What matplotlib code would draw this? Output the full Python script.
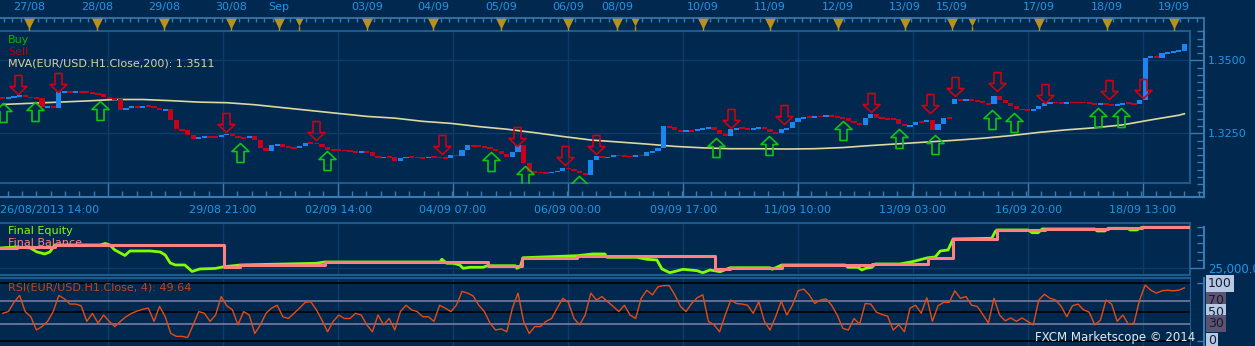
import numpy as np
import matplotlib.pyplot as plt
from matplotlib.path import Path

W, H = 1255, 346
BG = '#01294f'
GRID = '#0e3c69'
BORDER = '#1f5a8c'
AXIS = '#3a7ab0'
LABEL = '#1e96e6'

plt.rcParams['font.family'] = 'DejaVu Sans'
plt.rcParams['font.size'] = 8

# hourly chart resampled to one candle per 2 hours (bar index 0..211)
closes = [
    1.3370, 1.3373, 1.3377, 1.3380, 1.3373, 1.3373, 1.3370, 1.3339, 1.3343, 1.3336,
    1.3391, 1.3394, 1.3391, 1.3394, 1.3391, 1.3391, 1.3387, 1.3384, 1.3373, 1.3370,
    1.3367, 1.3329, 1.3336, 1.3343, 1.3339, 1.3343, 1.3343, 1.3336, 1.3329, 1.3332,
    1.3295, 1.3264, 1.3261, 1.3244, 1.3230, 1.3237, 1.3240, 1.3237, 1.3237, 1.3244,
    1.3247, 1.3240, 1.3237, 1.3233, 1.3240, 1.3226, 1.3199, 1.3189, 1.3209, 1.3213,
    1.3202, 1.3202, 1.3199, 1.3206, 1.3216, 1.3216, 1.3213, 1.3202, 1.3192, 1.3192,
    1.3192, 1.3189, 1.3189, 1.3185, 1.3189, 1.3185, 1.3172, 1.3165, 1.3168, 1.3168,
    1.3155, 1.3165, 1.3168, 1.3168, 1.3165, 1.3165, 1.3168, 1.3168, 1.3165, 1.3165,
    1.3175, 1.3172, 1.3192, 1.3209, 1.3206, 1.3206, 1.3202, 1.3196, 1.3189, 1.3178,
    1.3168, 1.3185, 1.3209, 1.3148, 1.3117, 1.3117, 1.3114, 1.3114, 1.3117, 1.3120,
    1.3131, 1.3127, 1.3120, 1.3114, 1.3107, 1.3158, 1.3172, 1.3165, 1.3168, 1.3175,
    1.3172, 1.3172, 1.3168, 1.3175, 1.3172, 1.3185, 1.3189, 1.3199, 1.3274, 1.3271,
    1.3261, 1.3257, 1.3261, 1.3257, 1.3264, 1.3267, 1.3271, 1.3261, 1.3247, 1.3240,
    1.3264, 1.3267, 1.3267, 1.3264, 1.3267, 1.3271, 1.3264, 1.3254, 1.3250, 1.3264,
    1.3267, 1.3288, 1.3302, 1.3305, 1.3305, 1.3308, 1.3308, 1.3312, 1.3308, 1.3305,
    1.3302, 1.3291, 1.3285, 1.3278, 1.3302, 1.3315, 1.3302, 1.3302, 1.3298, 1.3298,
    1.3281, 1.3274, 1.3278, 1.3288, 1.3288, 1.3295, 1.3261, 1.3281, 1.3302, 1.3302,
    1.3367, 1.3363, 1.3367, 1.3363, 1.3360, 1.3353, 1.3349, 1.3377, 1.3363, 1.3353,
    1.3343, 1.3332, 1.3332, 1.3329, 1.3332, 1.3343, 1.3353, 1.3356, 1.3356, 1.3353,
    1.3356, 1.3356, 1.3356, 1.3356, 1.3353, 1.3349, 1.3353, 1.3349, 1.3346, 1.3349,
    1.3353, 1.3353, 1.3349, 1.3363, 1.3510, 1.3517, 1.3510, 1.3524, 1.3527, 1.3531,
    1.3534, 1.3558]
gap_opens = {170: 1.3349}   # weekend gap, no candle bridging it

mva_x = [0, 5, 10, 15, 20, 25, 30, 35, 40, 45, 50, 55, 60, 65, 70, 75, 80, 85, 90, 95,
         100, 105, 110, 115, 120, 125, 130, 135, 140, 145, 150, 155, 160, 165, 170, 175,
         180, 185, 190, 195, 200, 205, 210, 211]
mva = [1.3349, 1.3353, 1.3357, 1.3361, 1.3366, 1.3366, 1.3362, 1.3357, 1.3355, 1.3348,
       1.3338, 1.3328, 1.3318, 1.3308, 1.3302, 1.3291, 1.3284, 1.3273, 1.3264, 1.3252,
       1.3239, 1.3227, 1.3220, 1.3213, 1.3205, 1.3200, 1.3197, 1.3197, 1.3196, 1.3197,
       1.3201, 1.3208, 1.3214, 1.3220, 1.3226, 1.3233, 1.3242, 1.3253, 1.3262, 1.3269,
       1.3279, 1.3296, 1.3312, 1.3317]

buy_x = [0.0, 5.8, 17.4, 42.4, 57.9, 87.2, 93.3, 102.9, 127.4, 136.8, 150.0, 160.0,
         166.5, 176.6, 180.6, 195.6, 199.7]
buy_p = [1.3353, 1.3356, 1.3360, 1.3216, 1.3189, 1.3185, 1.3137, 1.3103, 1.3233,
         1.3240, 1.3291, 1.3264, 1.3244, 1.3329, 1.3319, 1.3336, 1.3336]
sell_x = [2.7, 9.9, 39.9, 55.9, 78.4, 91.8, 100.4, 105.9, 130.0, 139.5, 155.0, 165.6,
          170.0, 177.5, 186.1, 197.5, 203.6]
sell_p = [1.3384, 1.3391, 1.3254, 1.3226, 1.3179, 1.3206, 1.3141, 1.3179, 1.3267,
          1.3281, 1.3322, 1.3319, 1.3377, 1.3394, 1.3353, 1.3367, 1.3370]

eq_x = [-0.5, 2.5, 4.9, 6.1, 7.5, 8.4, 9.3, 17.4, 18.3, 19.1, 20.0, 21.8, 22.7, 26.3,
        28.1, 29.0, 29.9, 30.8, 32.5, 33.8, 35.2, 37.9, 39.5, 42.4, 55.9, 57.5, 78.1,
        78.4, 79.3, 80.4, 81.6, 82.2, 83.4, 85.8, 86.5, 91.5, 91.8, 92.4, 92.9, 102.5,
        105.4, 107.5, 107.9, 113.2, 115.0, 116.8, 117.7, 119.1, 121.5, 124.0, 125.0,
        126.3, 128.1, 129.9, 137.0, 137.4, 139.1, 150.4, 150.9, 152.7, 153.4, 154.1,
        155.2, 155.8, 160.2, 162.4, 165.2, 166.5, 167.4, 168.8, 169.7, 176.6, 177.2,
        177.5, 183.1, 183.8, 184.9, 185.6, 195.0, 195.4, 196.8, 197.4, 200.9, 201.3,
        202.5, 203.4, 211.6]
equity = [25244, 25256, 25244, 25196, 25172, 25196, 25280, 25280, 25298, 25280, 25220,
          25154, 25208, 25208, 25196, 25160, 25064, 25040, 25040, 24962, 24992, 24998,
          25019, 25040, 25060, 25076, 25076, 25108, 25060, 25060, 25040, 25000, 25012,
          25012, 25031, 25031, 25000, 25019, 25127, 25151, 25172, 25172, 25132, 25132,
          25108, 25100, 24992, 24947, 24988, 24971, 24947, 24980, 24959, 25007, 25007,
          24988, 25040, 25040, 25012, 25012, 24980, 25000, 25012, 25052, 25052, 25079,
          25127, 25136, 25208, 25220, 25352, 25360, 25439, 25460, 25460, 25427, 25427,
          25472, 25472, 25448, 25448, 25480, 25480, 25460, 25460, 25492, 25492]
bal_x = [-0.5, 2.5, 9.3, 39.5, 42.4, 57.5, 86.6, 92.7, 102.5, 127.2, 129.9, 139.1,
         155.2, 165.2, 169.7, 177.5, 186.1, 197.4, 203.4, 211.6]
balance = [25244, 25259, 25280, 25019, 25040, 25076, 25031, 25127, 25151, 24988, 25007,
           25040, 25052, 25127, 25352, 25460, 25472, 25480, 25492, 25492]

rsi = [48, 51, 67, 79, 51, 42, 19, 25, 34, 51, 79, 73, 64, 64, 61, 34, 48, 31, 45, 34,
       25, 34, 42, 48, 52, 55, 57, 34, 60, 42, 13, 8, 8, 6, 28, 51, 48, 34, 45, 77,
       61, 54, 28, 51, 45, 13, 28, 48, 57, 62, 42, 39, 48, 57, 67, 68, 54, 36, 16, 34,
       45, 39, 39, 48, 45, 28, 16, 45, 28, 39, 19, 51, 62, 54, 51, 42, 42, 34, 62, 57,
       51, 62, 86, 83, 78, 62, 51, 31, 19, 21, 16, 57, 83, 34, 13, 25, 25, 34, 39, 57,
       74, 67, 39, 28, 45, 83, 71, 77, 68, 60, 51, 62, 45, 39, 74, 88, 80, 94, 96, 96,
       80, 60, 51, 65, 75, 80, 34, 28, 16, 45, 71, 65, 64, 62, 48, 68, 34, 19, 42, 69,
       45, 62, 87, 90, 80, 65, 71, 73, 62, 45, 22, 19, 39, 29, 65, 64, 50, 46, 43, 19,
       28, 16, 57, 62, 48, 75, 34, 61, 67, 67, 87, 74, 77, 62, 60, 46, 31, 74, 45, 35,
       40, 34, 40, 34, 28, 71, 81, 74, 71, 60, 42, 61, 64, 54, 50, 28, 36, 71, 64, 34,
       45, 29, 31, 71, 97, 88, 83, 87, 88, 87, 88, 92]

grid_bars = [18.8, 39.3, 59.9, 80.4, 100.9, 121.5, 142.0, 162.5, 183.1, 203.6]
time_labels = ['', '29/08 21:00', '02/09 14:00', '04/09 07:00', '06/09 00:00',
               '09/09 17:00', '11/09 10:00', '13/09 03:00', '16/09 20:00', '18/09 13:00']
day_bars = [4.7, 16.8, 28.8, 40.8, 49.3, 65.0, 76.8, 89.0, 100.9, 109.7, 125.0, 137.0,
            149.1, 161.1, 169.5, 185.0, 197.2, 209.1]
day_labels = ['27/08', '28/08', '29/08', '30/08', 'Sep', '03/09', '04/09', '05/09',
              '06/09', '08/09', '10/09', '11/09', '12/09', '13/09', '15/09', '17/09',
              '18/09', '19/09']
small_day_bars = [52.9, 112.9, 173.1]


def box(x0, y0, x1, y1):
    return [x0 / W, 1 - y1 / H, (x1 - x0) / W, (y1 - y0) / H]


def bare(ax):
    ax.set_facecolor(BG)
    for s in ax.spines.values():
        s.set_visible(False)
    ax.set_xticks([])
    ax.set_yticks([])


def scale_axes(rect, ylim):
    a = fig.add_axes(rect)
    a.patch.set_visible(False)
    for s in a.spines.values():
        s.set_visible(False)
    a.spines['right'].set_visible(True)
    a.spines['right'].set_color(AXIS)
    a.spines['right'].set_linewidth(1.5)
    a.set_ylim(*ylim)
    a.set_xticks([])
    a.yaxis.tick_right()
    return a


fig = plt.figure(figsize=(W / 100, H / 100), dpi=100, facecolor=BG)
XLIM = (-0.5, 212.0)
XLIM_AX = (-0.5, 214.5)

# ---------------- price panel ----------------
ax = fig.add_axes(box(0, 31, 1190, 183))
bare(ax)
ax.set_xlim(*XLIM)
ax.set_ylim(1.30793, 1.36012)
for s in ['top', 'right', 'bottom']:
    ax.spines[s].set_visible(True)
    ax.spines[s].set_color(BORDER)
    ax.spines[s].set_linewidth(1.5)
for g in grid_bars:
    ax.axvline(g, color=GRID, lw=1, zorder=0)
for p in [1.325, 1.35]:
    ax.axhline(p, color=GRID, lw=1, zorder=0)

c = np.array(closes)
o = np.concatenate([[c[0]], c[:-1]])
for k, v in gap_opens.items():
    o[k] = v
up = c > o
lo = np.minimum(o, c)
hi = np.maximum(o, c)
ht = np.maximum(hi - lo, 0.0006)
lo = np.where(hi - lo < 0.0006, (hi + lo) / 2 - 0.0003, lo)
idx = np.arange(len(c))
ax.bar(idx, ht, bottom=lo, width=0.9, color=np.where(up, '#1a86f2', '#c8001a'),
       linewidth=0, zorder=3)
ax.plot(mva_x, mva, color='#dcd8a0', lw=1.2, zorder=2)

buy_marker = Path([(0, 0), (8.5, -8), (3.5, -8), (3.5, -19), (-3.5, -19), (-3.5, -8),
                   (-8.5, -8), (0, 0)],
                  [Path.MOVETO] + [Path.LINETO] * 6 + [Path.CLOSEPOLY])
sell_marker = Path([(0, 0), (8.5, 8), (3.5, 8), (3.5, 19), (-3.5, 19), (-3.5, 8),
                    (-8.5, 8), (0, 0)],
                   [Path.MOVETO] + [Path.LINETO] * 6 + [Path.CLOSEPOLY])
ms = 2 * 19 * 0.72
ax.plot(buy_x, buy_p, ls='none', marker=buy_marker, ms=ms, mfc='none',
        mec='#12c412', mew=1.2, zorder=5)
ax.plot(sell_x, sell_p, ls='none', marker=sell_marker, ms=ms, mfc='none',
        mec='#d00010', mew=1.2, zorder=5)

fig.text(8 / W, 1 - 40 / H, 'Buy', color='#12b012', va='center')
fig.text(8 / W, 1 - 52 / H, 'Sell', color='#c00000', va='center')
fig.text(8 / W, 1 - 64 / H, 'MVA(EUR/USD.H1.Close,200): 1.3511', color='#d8d4a0',
         va='center')

# price scale
ps = scale_axes(box(1190, 31, 1204, 197), (1.30315, 1.36012))
ps.set_yticks([1.325, 1.35])
ps.set_yticklabels(['1.3250', '1.3500'])
ps.set_yticks(np.arange(1.305, 1.3601, 0.0025), minor=True)
ps.tick_params(axis='y', which='major', direction='in', length=10, color=AXIS,
               labelcolor=LABEL, pad=3, width=1)
ps.tick_params(axis='y', which='minor', direction='in', length=5, color=AXIS, width=1)

# time axis at the bottom of price panel
ta = fig.add_axes(box(0, 183, 1204, 197))
ta.patch.set_visible(False)
for s in ta.spines.values():
    s.set_visible(False)
ta.spines['bottom'].set_visible(True)
ta.spines['bottom'].set_color(AXIS)
ta.spines['bottom'].set_linewidth(1.5)
ta.set_xlim(*XLIM_AX)
ta.set_yticks([])
ta.set_xticks(grid_bars)
ta.set_xticklabels(time_labels)
step = (grid_bars[1] - grid_bars[0]) / 8
ta.set_xticks(np.arange(grid_bars[0] - 7 * step, 214, step), minor=True)
ta.tick_params(axis='x', which='major', direction='in', length=10, color=AXIS,
               labelcolor=LABEL, pad=6, width=1)
ta.tick_params(axis='x', which='minor', direction='in', length=4, color=AXIS, width=1)
fig.text(0, 1 - 210 / H, '26/08/2013 14:00', color=LABEL, va='center', ha='left')

# day strip on top
tp = fig.add_axes(box(0, 18, 1204, 31))
tp.patch.set_visible(False)
for s in tp.spines.values():
    s.set_visible(False)
for s in ['top', 'right']:
    tp.spines[s].set_visible(True)
    tp.spines[s].set_color(AXIS)
    tp.spines[s].set_linewidth(1.2)
tp.set_xlim(*XLIM_AX)
tp.set_ylim(0, 1)
tp.set_yticks([])
tp.xaxis.tick_top()
tp.set_xticks(day_bars)
tp.set_xticklabels(day_labels)
tp.set_xticks(np.arange(day_bars[0] - 3 * 1.5, 214, 1.5), minor=True)
tp.tick_params(axis='x', which='major', length=0, labelcolor=LABEL, pad=4)
tp.tick_params(axis='x', which='minor', direction='in', length=3, color=AXIS, width=1)
tp.plot(day_bars, [0.6] * len(day_bars), ls='none', marker='v', ms=8,
        color='#b8901c', mec='none', clip_on=False)
tp.plot(small_day_bars, [0.7] * len(small_day_bars), ls='none', marker='v', ms=5.5,
        color='#b8901c', mec='none', clip_on=False)
tp.vlines(day_bars + small_day_bars, 0, 0.35, color='#b8901c', lw=1)

# ---------------- equity panel ----------------
ae = fig.add_axes(box(0, 223, 1190, 275))
bare(ae)
ae.set_xlim(*XLIM)
ae.set_ylim(24919.6, 25543.6)
for s in ['top', 'bottom', 'right']:
    ae.spines[s].set_visible(True)
    ae.spines[s].set_color(BORDER)
    ae.spines[s].set_linewidth(1.5)
for g in grid_bars:
    ae.axvline(g, color=GRID, lw=1, zorder=0)
ae.axhline(25000, color=GRID, lw=1, zorder=0)
ae.plot(eq_x, equity, color='#80ff00', lw=2, zorder=2)
ae.step(bal_x, balance, where='post', color='#ff8282', lw=2.2, zorder=3)
ae.text(8 / W, 1 - 231 / H, 'Final Equity', color='#80ff00', va='center',
        transform=fig.transFigure, zorder=1)
ae.text(8 / W, 1 - 243 / H, 'Final Balance', color='#ff8282', va='center',
        transform=fig.transFigure, zorder=1)

es = scale_axes(box(1190, 223, 1204, 275), (24919.6, 25543.6))
es.spines['right'].set_bounds(25000, 25500)
es.set_yticks([25000])
es.set_yticklabels(['25,000.0'])
es.set_yticks([25100, 25200, 25300, 25400, 25500], minor=True)
es.tick_params(axis='y', which='major', direction='in', length=10, color=AXIS,
               labelcolor=LABEL, pad=3, width=1, labelsize=8.5)
es.tick_params(axis='y', which='minor', direction='in', length=5, color=AXIS, width=1)

# ---------------- RSI panel ----------------
ar = fig.add_axes(box(0, 278, 1190, 346))
bare(ar)
ar.set_xlim(*XLIM)
ar.set_ylim(-8.7, 109.2)
ar.spines['top'].set_visible(True)
ar.spines['top'].set_color(BORDER)
ar.spines['top'].set_linewidth(1.5)
ar.spines['right'].set_visible(True)
ar.spines['right'].set_color(BORDER)
for g in grid_bars:
    ar.axvline(g, color=GRID, lw=1, zorder=0)
for lv in [0, 50, 100]:
    ar.axhline(lv, color='black', lw=1.2, zorder=1)
for lv in [30, 70]:
    ar.axhline(lv, color='#7a7aa0', lw=1.2, zorder=1)
ar.plot(np.arange(len(rsi)), rsi, color='#ea4a10', lw=1, zorder=3)
fig.text(8 / W, 1 - 287 / H, 'RSI(EUR/USD.H1.Close, 4): 49.64', color='#c8401a',
         va='center')
fig.text(1035 / W, 1 - 338 / H, 'FXCM Marketscope \u00a9 2014', color='#e8e8e8',
         va='center', fontsize=8.5)

rs = scale_axes(box(1190, 278, 1204, 346), (-8.7, 109.2))
rs.set_yticks([0, 100])
rs.set_yticklabels([])
rs.tick_params(axis='y', direction='in', length=5, color=AXIS, width=1)
rsi_levels = [100, 70, 50, 30, 0]
rsi_box = ['#b8c8e4', '#5e5272', '#b8c8e4', '#5e5272', '#b8c8e4']
for lv, bc in zip(rsi_levels, rsi_box):
    rs.text(18 / 14, lv, str(lv), color='#101c30', va='center', ha='left',
            fontsize=9, transform=rs.get_yaxis_transform(),
            bbox=dict(boxstyle='square,pad=0.15', fc=bc, ec='none'))

fig.savefig('out.png', dpi=100, facecolor=BG)
